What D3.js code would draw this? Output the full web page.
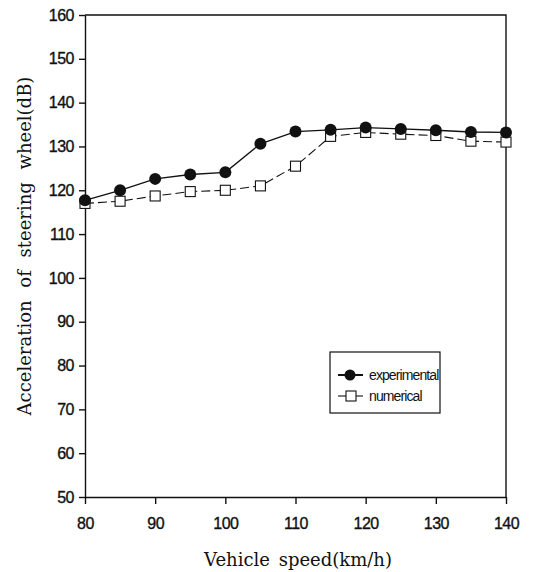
<!DOCTYPE html>
<html>
<head>
<meta charset="utf-8">
<script src="https://cdn.jsdelivr.net/npm/d3@7"></script>
<style>
    body { margin: 0; background: #fff; }
    .tick text { font-family: "Liberation Sans", Arial, sans-serif; font-size: 16px; fill: #111; stroke: #111; stroke-width: 0.35px; letter-spacing: -0.5px; }
    .axis path, .axis line { stroke: #111; stroke-width: 1.4px; }
    .title { font-family: "DejaVu Serif", "Liberation Serif", serif; font-size: 18px; fill: #111; }
    .legend text { font-family: "Liberation Sans", Arial, sans-serif; font-size: 14px; fill: #111; letter-spacing: -0.9px; }
</style>
</head>
<body>
<svg id="chart" width="536" height="572"></svg>
<script>

/*    ========    DATA    =========    */

var speed = [80, 85, 90, 95, 100, 105, 110, 115, 120, 125, 130, 135, 140];
var experimental = [117.7, 120.0, 122.6, 123.6, 124.1, 130.6, 133.4, 133.8, 134.3, 134.0, 133.7, 133.3, 133.2];
var numerical = [117.0, 117.5, 118.7, 119.7, 120.0, 121.0, 125.5, 132.3, 133.2, 132.8, 132.5, 131.2, 131.0];

var xTicks = [80, 90, 100, 110, 120, 130, 140];
var yTicks = [50, 60, 70, 80, 90, 100, 110, 120, 130, 140, 150, 160];

/*    ========    SETTINGS    =========    */

var svg = d3.select('#chart');

var LEFT = 85, RIGHT = 506, TOP = 15, BOTTOM = 497;

var scale_x = d3.scaleLinear().domain([80, 140]).range([LEFT, RIGHT]);
var scale_y = d3.scaleLinear().domain([50, 160]).range([BOTTOM, TOP]);

/*    ========    AXES    =========    */

// frame (top and right)
svg.append("path")
    .attr("d", "M" + LEFT + "," + TOP + "H" + RIGHT + "V" + BOTTOM)
    .attr("fill", "none")
    .attr("stroke", "#111")
    .attr("stroke-width", 1.4);

svg.append("g")
    .attr("class", "axis")
    .attr("transform", "translate(0," + BOTTOM + ")")
    .call(d3.axisBottom(scale_x).tickValues(xTicks).tickSize(7).tickPadding(11).tickSizeOuter(0))
    .selectAll(".tick text").attr("dy", "0.9em");

svg.append("g")
    .attr("class", "axis")
    .attr("transform", "translate(" + LEFT + ",0)")
    .call(d3.axisLeft(scale_y).tickValues(yTicks).tickSize(6).tickPadding(5).tickSizeOuter(0));

// titles
svg.append("text")
    .attr("class", "title")
    .attr("x", 298)
    .attr("y", 566)
    .attr("text-anchor", "middle")
    .style("word-spacing", "3px")
    .text("Vehicle speed(km/h)");

svg.append("text")
    .attr("class", "title")
    .attr("transform", "translate(31," + 246 + ") rotate(-90)")
    .attr("text-anchor", "middle")
    .style("word-spacing", "7px")
    .text("Acceleration of steering wheel(dB)");

/*    ========    LINES    =========    */

var line = d3.line()
    .x(function(d) { return scale_x(d[0]); })
    .y(function(d) { return scale_y(d[1]); });

var numData = d3.zip(speed, numerical);
var expData = d3.zip(speed, experimental);

svg.append("path")
    .datum(numData)
    .attr("d", line)
    .attr("fill", "none")
    .attr("stroke", "#111")
    .attr("stroke-width", 1.1)
    .attr("stroke-dasharray", "9,4");

svg.selectAll(".sq")
    .data(numData)
    .enter().append("rect")
    .attr("class", "sq")
    .attr("x", function(d) { return scale_x(d[0]) - 5; })
    .attr("y", function(d) { return scale_y(d[1]) - 5; })
    .attr("width", 10)
    .attr("height", 10)
    .attr("fill", "#fff")
    .attr("stroke", "#111")
    .attr("stroke-width", 1.1);

svg.append("path")
    .datum(expData)
    .attr("d", line)
    .attr("fill", "none")
    .attr("stroke", "#111")
    .attr("stroke-width", 1.3);

svg.selectAll(".dot")
    .data(expData)
    .enter().append("circle")
    .attr("class", "dot")
    .attr("cx", function(d) { return scale_x(d[0]); })
    .attr("cy", function(d) { return scale_y(d[1]); })
    .attr("r", 6)
    .attr("fill", "#111");

/*    ========    LEGEND    =========    */

var legend = svg.append("g").attr("class", "legend");

legend.append("rect")
    .attr("x", 330).attr("y", 352)
    .attr("width", 110).attr("height", 61)
    .attr("fill", "#fff")
    .attr("stroke", "#111")
    .attr("stroke-width", 1.2);

legend.append("line")
    .attr("x1", 338).attr("x2", 363).attr("y1", 375).attr("y2", 375)
    .attr("stroke", "#111").attr("stroke-width", 2);
legend.append("circle")
    .attr("cx", 350).attr("cy", 375).attr("r", 5.5).attr("fill", "#111");
legend.append("text")
    .attr("x", 369).attr("y", 375).attr("dy", "0.35em")
    .text("experimental");

legend.append("line")
    .attr("x1", 338).attr("x2", 363).attr("y1", 396).attr("y2", 396)
    .attr("stroke", "#111").attr("stroke-width", 1.1);
legend.append("rect")
    .attr("x", 346).attr("y", 391).attr("width", 10).attr("height", 10)
    .attr("fill", "#fff").attr("stroke", "#111").attr("stroke-width", 1.1);
legend.append("text")
    .attr("x", 369).attr("y", 396).attr("dy", "0.35em")
    .text("numerical");

</script>
</body>
</html>
